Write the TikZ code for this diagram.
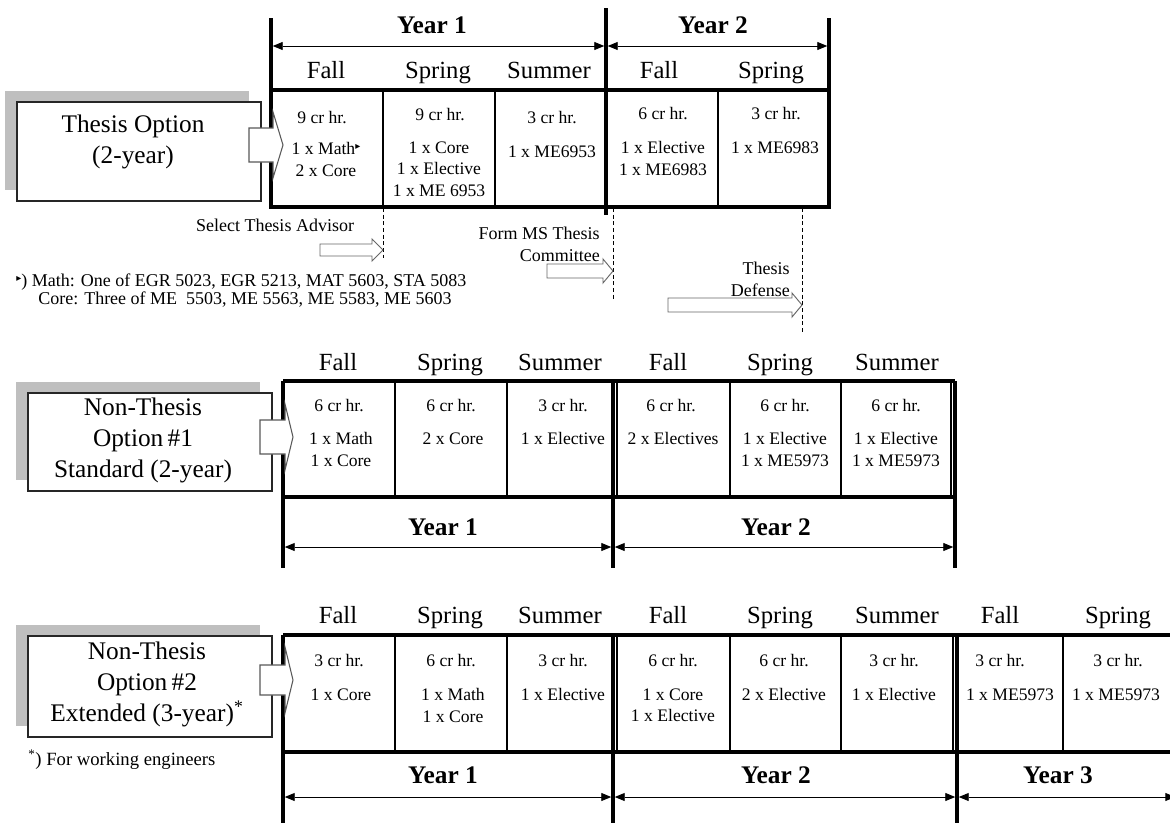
\documentclass[tikz,border=0pt]{standalone}
\usepackage{fontspec}
\setmainfont{Liberation Serif}
\newfontfamily\symfont{DejaVu Sans}
\usetikzlibrary{arrows.meta}
\newcommand{\mathmark}{{\symfont\fontsize{7.5}{7.5}\selectfont\raisebox{3.8pt}{▸}}}
\newcommand{\blockarr}[7]{%
  \draw[#7] (#1,#4-#5) -- (#2,#4-#5) -- (#2,#4-#6) -- (#3,#4) -- (#2,#4+#6) -- (#2,#4+#5) -- (#1,#4+#5) -- cycle;}
\tikzset{
  tborder/.style={line width=2.6pt},
  thinline/.style={line width=1.1pt},
  yeararrow/.style={line width=0.7pt,{Triangle[length=7.5pt,width=6pt]}-{Triangle[length=7.5pt,width=6pt]},shorten <=1.3pt,shorten >=1.3pt},
  season/.style={font=\fontsize{18.5}{22}\selectfont,inner sep=0pt,anchor=base},
  yearlabel/.style={font=\bfseries\fontsize{19}{22}\selectfont,inner sep=0pt,anchor=base},
  cr/.style={font=\fontsize{13.2}{16}\selectfont,inner sep=0pt,anchor=base},
  course/.style={font=\fontsize{13.2}{16}\selectfont,inner sep=0pt,align=center,anchor=north},
  optbox/.style={draw=black!85,line width=0.8pt,fill=white,inner sep=0pt},
  opttext/.style={font=\fontsize{19}{23}\selectfont,align=center,inner sep=0pt},
  shadowbox/.style={fill=black!25,draw=none},
  note/.style={font=\fontsize{13.5}{16.5}\selectfont,inner sep=0pt},
  hollowarrow/.style={draw=black!60,fill=white,line width=0.7pt},
  sidearrow/.style={draw=black!65,fill=white,line width=0.8pt},
  milestone/.style={line width=0.6pt,dash pattern=on 3pt off 2pt},
}
\begin{document}
\begin{tikzpicture}[x=0.75pt,y=-0.75pt]
\useasboundingbox (0,0) rectangle (1170,822);
\clip (0,0) rectangle (1170,822);

%% ================= Thesis option =================
\fill[shadowbox] (5,91) rectangle (249,190);
\node[optbox,minimum width=183pt,minimum height=74.25pt] (opt1) at (139,151.5) {};
\node[opttext] (opt1t) at (133,142) {Thesis Option\\(2-year)};

% table 1 frame
\draw[tborder] (271,90) rectangle (829,207);
\draw[thinline] (383,90)--(383,207) (495,90)--(495,207) (718,90)--(718,207);
\draw[tborder] (271,18)--(271,207);
\draw[tborder] (606,8)--(606,215);
\draw[tborder] (829,18)--(829,207);
\coordinate (t1a) at (271,46); \coordinate (t1b) at (606,46); \coordinate (t1c) at (829,46);
\draw[yeararrow] (t1a)--(t1b);
\draw[yeararrow] (t1b)--(t1c);
\node[yearlabel] (t1y1) at (432,33) {Year 1};
\node[yearlabel] (t1y2) at (713,33) {Year 2};
\node[season] (t1s1) at (326,78) {Fall};
\node[season] (t1s2) at (438,78) {Spring};
\node[season] (t1s3) at (549,78) {Summer};
\node[season] (t1s4) at (659,78) {Fall};
\node[season] (t1s5) at (771,78) {Spring};

\node[cr] (t1c1a) at (322,123.5) {9 cr hr.};
\node[course] (t1c1b) at (326,142.5) {1 x Math\mathmark\\2 x Core};
\node[cr] (t1c2a) at (440,120.5) {9 cr hr.};
\node[course] (t1c2b) at (439,141.5) {1 x Core\\1 x Elective\\1 x ME 6953};
\node[cr] (t1c3a) at (552,123.5) {3 cr hr.};
\node[course] (t1c3b) at (552,145.5) {1 x ME6953};
\node[cr] (t1c4a) at (663,119.5) {6 cr hr.};
\node[course] (t1c4b) at (663,141.5) {1 x Elective\\1 x ME6983};
\node[cr] (t1c5a) at (776,119.5) {3 cr hr.};
\node[course] (t1c5b) at (775,141.5) {1 x ME6983};

\blockarr{249}{273}{283}{145}{17}{33}{sidearrow}

% milestones
\coordinate (m1t) at (383,208); \coordinate (m1b) at (383,258);
\coordinate (m2t) at (613,208); \coordinate (m2b) at (613,300);
\coordinate (m3t) at (802,208); \coordinate (m3b) at (802,333);
\draw[milestone] (m1t)--(m1b);
\draw[milestone] (m2t)--(m2b);
\draw[milestone] (m3t)--(m3b);
\blockarr{320}{372}{383}{250}{6}{11}{hollowarrow}
\blockarr{547}{603}{613}{271}{7}{12}{hollowarrow}
\blockarr{668}{792}{802}{305}{7}{12}{hollowarrow}
\node[note] (adv) at (275,225) {Select Thesis Advisor};
\node[note,align=right,anchor=east] (comm) at (600,244) {Form MS Thesis\\Committee};
\node[note,align=right,anchor=east] (def) at (790,279) {Thesis\\Defense};
\node[note,anchor=west] (n1) at (16,282) {\mathmark) Math: One of EGR 5023, EGR 5213, MAT 5603, STA 5083};
\node[note,anchor=west] (n2) at (38,300) {Core: Three of ME\ \ 5503, ME 5563, ME 5583, ME 5603};

%% ================= Non-thesis option 1 =================
\fill[shadowbox] (16,382) rectangle (260,480);
\node[optbox,minimum width=183pt,minimum height=73.5pt] (opt2) at (150,442) {};
\node[opttext] (opt2t) at (143,440.5) {Non-Thesis\\Option\,\#1\\Standard (2-year)};

\draw[tborder] (283,381)--(955,381);
\draw[tborder] (283,497)--(955,497);
\draw[thinline] (395,381)--(395,497) (507,381)--(507,497) (617,381)--(617,497)
  (730,381)--(730,497) (841,381)--(841,497) (951,381)--(951,497);
\draw[tborder] (283,381)--(283,568);
\draw[tborder] (613,381)--(613,568);
\draw[tborder] (955,381)--(955,568);
\coordinate (t2a) at (283,547); \coordinate (t2b) at (613,547); \coordinate (t2c) at (955,547);
\draw[yeararrow] (t2a)--(t2b);
\draw[yeararrow] (t2b)--(t2c);
\node[yearlabel] (t2y1) at (443,535) {Year 1};
\node[yearlabel] (t2y2) at (776,535) {Year 2};
\node[season] (t2s1) at (338,370) {Fall};
\node[season] (t2s2) at (450,370) {Spring};
\node[season] (t2s3) at (560,370) {Summer};
\node[season] (t2s4) at (668,370) {Fall};
\node[season] (t2s5) at (780,370) {Spring};
\node[season] (t2s6) at (897,370) {Summer};

\node[cr] (t2c1a) at (339,411.5) {6 cr hr.};
\node[course] (t2c1b) at (341,432.5) {1 x Math\\1 x Core};
\node[cr] (t2c2a) at (451,411.5) {6 cr hr.};
\node[course] (t2c2b) at (453,432.5) {2 x Core};
\node[cr] (t2c3a) at (563,411.5) {3 cr hr.};
\node[course] (t2c3b) at (563,432.5) {1 x Elective};
\node[cr] (t2c4a) at (671,411.5) {6 cr hr.};
\node[course] (t2c4b) at (673,432.5) {2 x Electives};
\node[cr] (t2c5a) at (785,411.5) {6 cr hr.};
\node[course] (t2c5b) at (785,432.5) {1 x Elective\\1 x ME5973};
\node[cr] (t2c6a) at (896,411.5) {6 cr hr.};
\node[course] (t2c6b) at (896,432.5) {1 x Elective\\1 x ME5973};

\blockarr{260}{285}{293}{437}{17}{33}{sidearrow}

%% ================= Non-thesis option 2 =================
\fill[shadowbox] (16,625) rectangle (260,726);
\node[optbox,minimum width=183pt,minimum height=75.75pt] (opt3) at (150,686.5) {};
\node[opttext] (opt3t) at (147,684.5) {Non-Thesis\\Option\,\#2\\Extended (3-year)\textsuperscript{*}};
\node[font=\fontsize{14}{16}\selectfont,inner sep=0pt,anchor=west] (foot) at (28,760) {\textsuperscript{*}) For working engineers};

\draw[tborder] (283,635)--(1185,635);
\draw[tborder] (283,752)--(1185,752);
\draw[thinline] (395,635)--(395,752) (507,635)--(507,752) (617,635)--(617,752)
  (730,635)--(730,752) (841,635)--(841,752) (953,635)--(953,752) (1063,635)--(1063,752);
\draw[tborder] (283,635)--(283,830);
\draw[tborder] (613,635)--(613,830);
\draw[tborder] (957,635)--(957,830);
\coordinate (t3a) at (283,797); \coordinate (t3b) at (613,797); \coordinate (t3c) at (957,797); \coordinate (t3d) at (1177,797);
\draw[yeararrow] (t3a)--(t3b);
\draw[yeararrow] (t3b)--(t3c);
\draw[yeararrow] (t3c)--(t3d);
\node[yearlabel] (t3y1) at (443,783) {Year 1};
\node[yearlabel] (t3y2) at (776,783) {Year 2};
\node[yearlabel] (t3y3) at (1058,783) {Year 3};
\node[season] (t3s1) at (338,623) {Fall};
\node[season] (t3s2) at (450,623) {Spring};
\node[season] (t3s3) at (560,623) {Summer};
\node[season] (t3s4) at (668,623) {Fall};
\node[season] (t3s5) at (780,623) {Spring};
\node[season] (t3s6) at (897,623) {Summer};
\node[season] (t3s7) at (1000,623) {Fall};
\node[season] (t3s8) at (1118,623) {Spring};

\node[cr] (t3c1a) at (339,666.5) {3 cr hr.};
\node[course] (t3c1b) at (341,688.5) {1 x Core};
\node[cr] (t3c2a) at (451,666.5) {6 cr hr.};
\node[course] (t3c2b) at (453,688.5) {1 x Math\\1 x Core};
\node[cr] (t3c3a) at (563,666.5) {3 cr hr.};
\node[course] (t3c3b) at (563,688.5) {1 x Elective};
\node[cr] (t3c4a) at (673,666.5) {6 cr hr.};
\node[course] (t3c4b) at (673,688.5) {1 x Core\\1 x Elective};
\node[cr] (t3c5a) at (784,666.5) {6 cr hr.};
\node[course] (t3c5b) at (784,688.5) {2 x Elective};
\node[cr] (t3c6a) at (894,666.5) {3 cr hr.};
\node[course] (t3c6b) at (894,688.5) {1 x Elective};
\node[cr] (t3c7a) at (1000,666.5) {3 cr hr.};
\node[course] (t3c7b) at (1010,688.5) {1 x ME5973};
\node[cr] (t3c8a) at (1118,666.5) {3 cr hr.};
\node[course] (t3c8b) at (1116,688.5) {1 x ME5973};

\blockarr{260}{285}{293}{680}{15}{33}{sidearrow}
\end{tikzpicture}
\end{document}
